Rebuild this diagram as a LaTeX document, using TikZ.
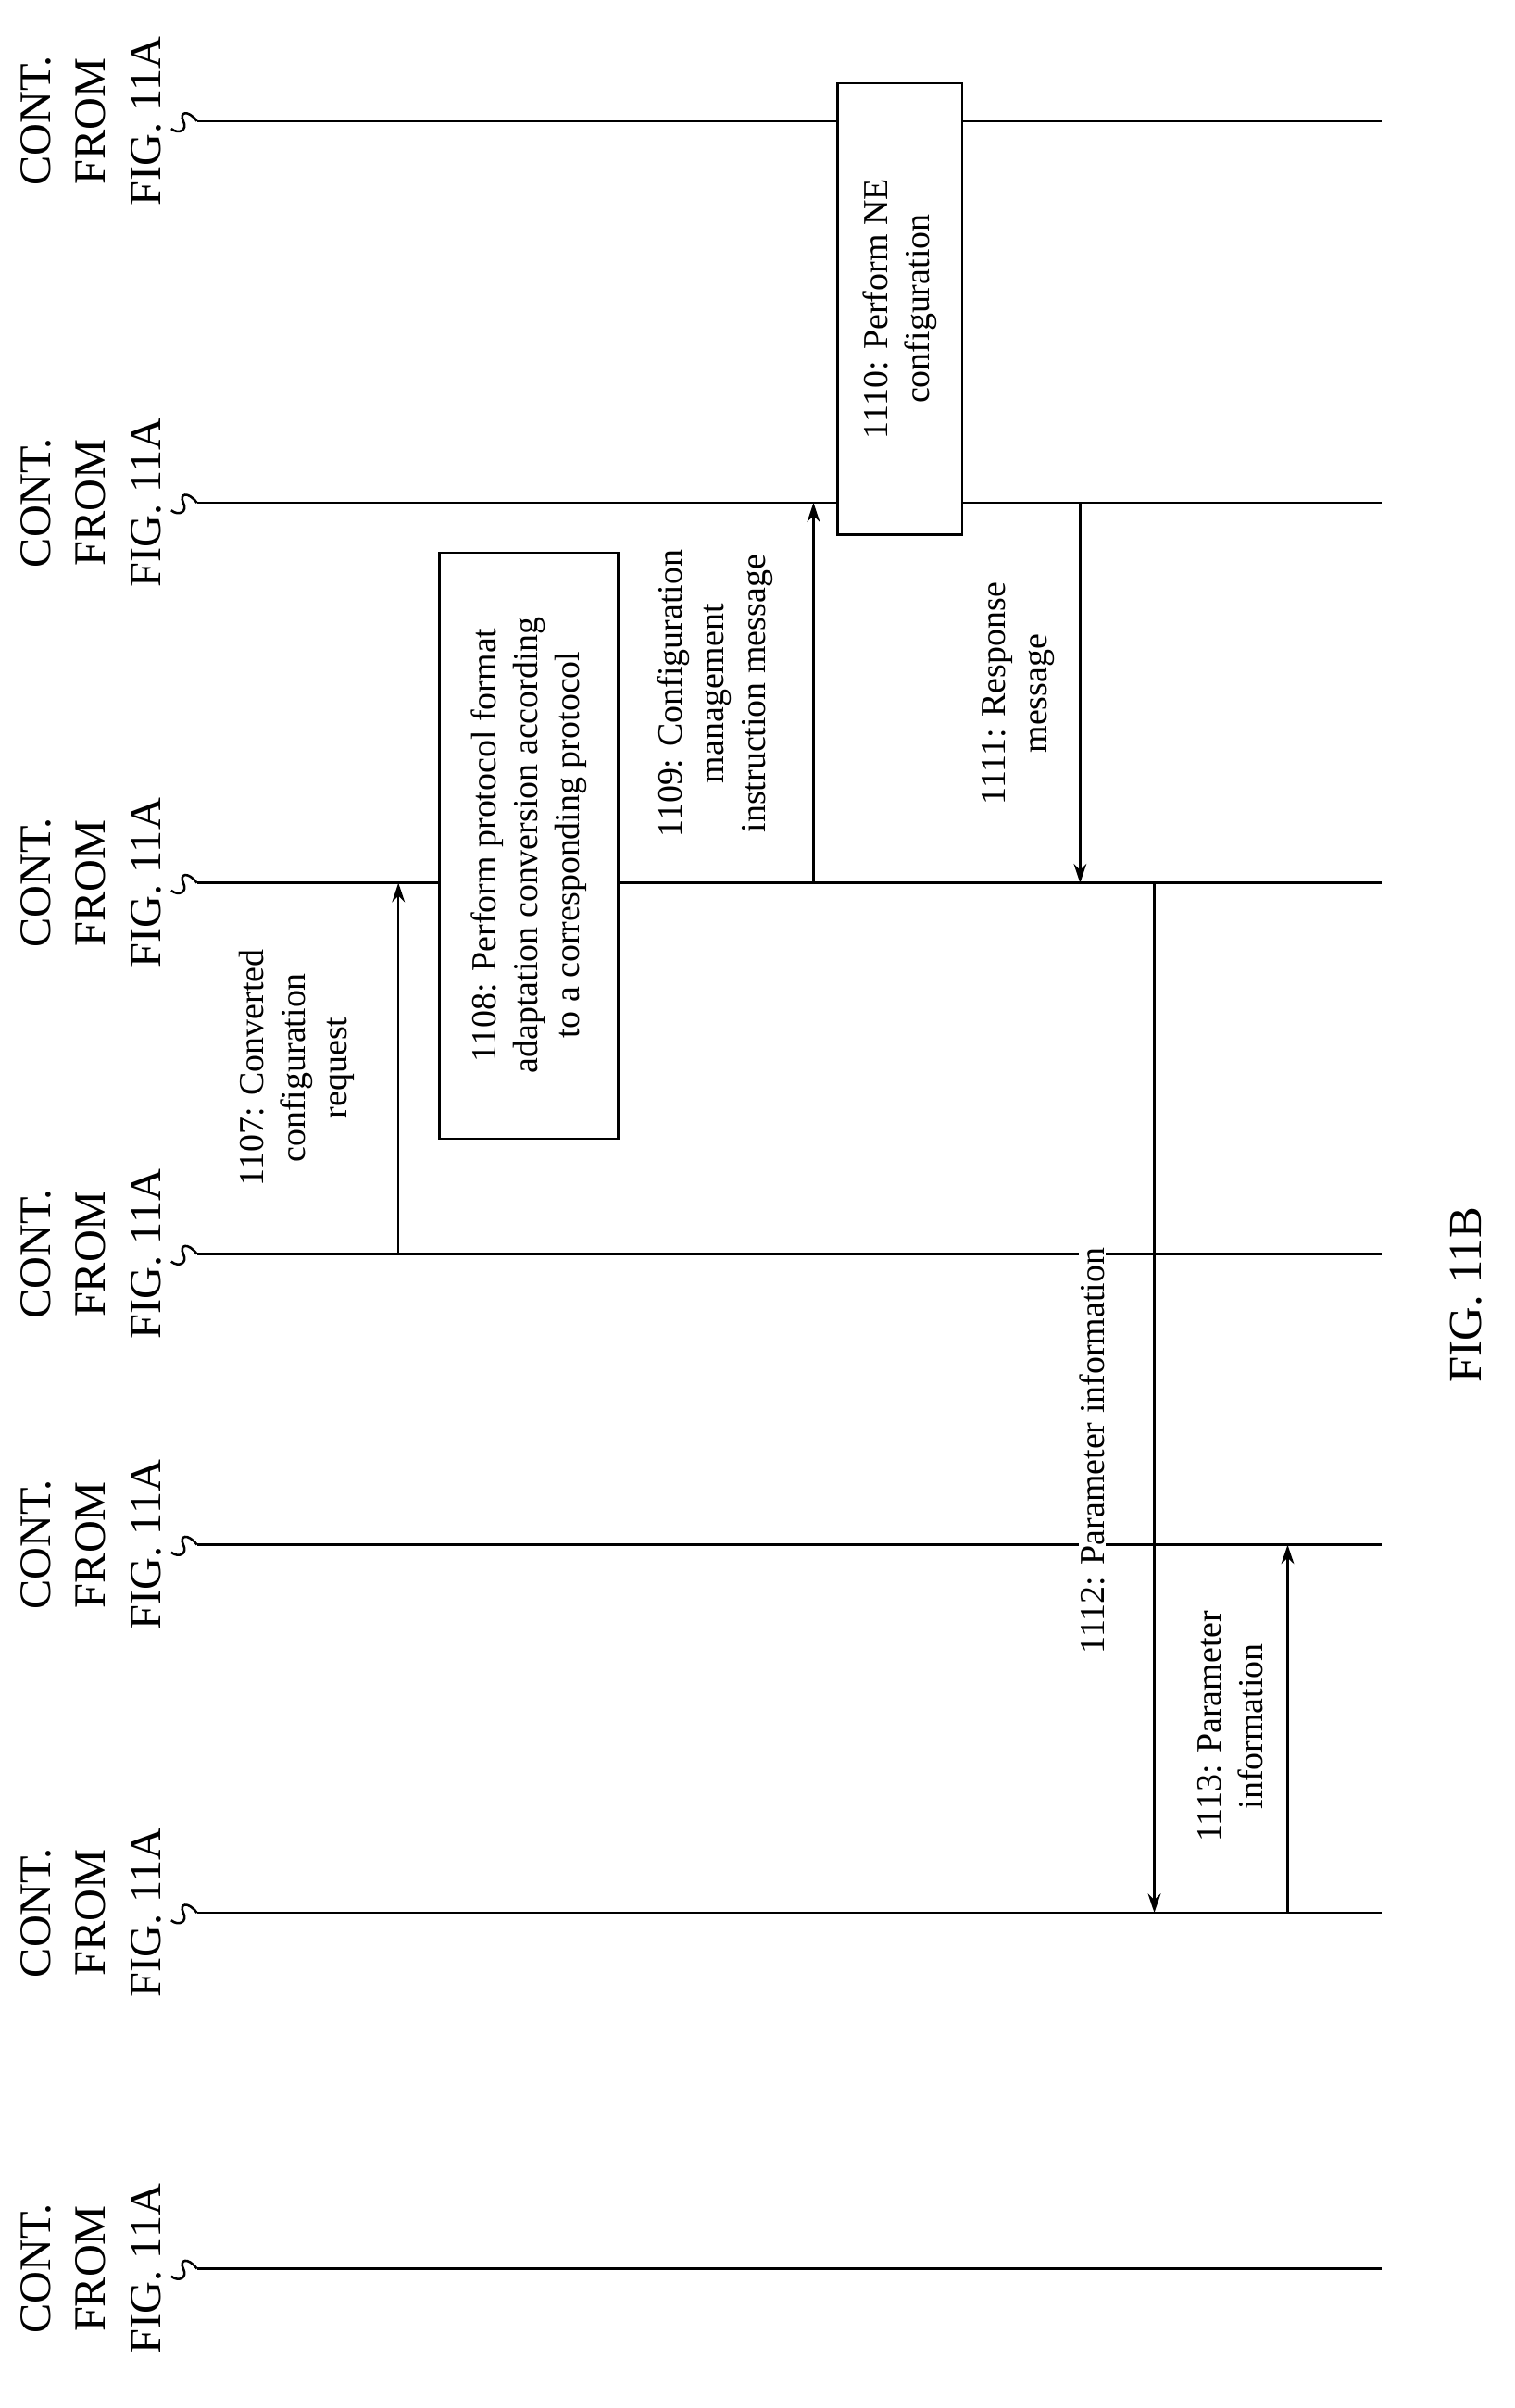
\documentclass[tikz,border=0pt]{standalone}
\usepackage{fontspec}
\setmainfont{Liberation Serif}
\usetikzlibrary{arrows.meta}
\begin{document}
\begin{tikzpicture}[x=0.05cm,y=-0.05cm,
  life/.style={line width=2.2pt},
  msg/.style={line width=2.2pt,-{Stealth[length=18pt,width=12pt]}},
  cont/.style={rotate=90,align=center,font=\fontsize{42}{52}\selectfont},
  lbl/.style={rotate=90,align=center,font=\fontsize{33}{39}\selectfont,inner sep=1pt}]
\useasboundingbox (0,0) rectangle (1000,1590);
\foreach \n/\y in {a/80,b/332,c/583,d/828,e/1020,f/1263,g/1498}{
  \coordinate (\n0) at (130,\y);
  \coordinate (\n1) at (912,\y);
  \draw[life] (\n0) -- (\n1);
  \draw[life] (\n0) .. controls (124,\y-8) and (118,\y-6) .. (121,\y) .. controls (124,\y+6) and (118,\y+9) .. (113,\y+5);
  \node[cont] (cont\n) at (60,\y) {CONT.\\FROM\\FIG. 11A};
}
% 1107
\coordinate (s1) at (263,828); \coordinate (t1) at (263,583);
\draw[msg] (s1) -- (t1);
\node[lbl] (l1107) at (196,705) {1107: Converted\\configuration\\request};
% 1108
\draw[line width=2.2pt,fill=white] (290,365) rectangle (408,752);
\node[lbl] (b1108) at (349,558) {1108: Perform protocol format\\adaptation conversion according\\to a corresponding protocol};
% 1109
\coordinate (s2) at (537,583); \coordinate (t2) at (537,332);
\draw[msg] (s2) -- (t2);
\node[lbl] (l1109) at (472,458) {1109: Configuration\\management\\instruction message};
% 1110
\draw[line width=2.2pt,fill=white] (553,55) rectangle (635,353);
\node[lbl] (b1110) at (594,204) {1110: Perform NE\\configuration};
% 1111
\coordinate (s3) at (713,332); \coordinate (t3) at (713,583);
\draw[msg] (s3) -- (t3);
\node[lbl] (l1111) at (672,458) {1111: Response\\message};
% 1112
\coordinate (s4) at (762,583); \coordinate (t4) at (762,1263);
\draw[msg] (s4) -- (t4);
\node[lbl,fill=white] (l1112) at (721,958) {1112: Parameter information};
% 1113
\coordinate (s5) at (850,1263); \coordinate (t5) at (850,1020);
\draw[msg] (s5) -- (t5);
\node[lbl] (l1113) at (812,1140) {1113: Parameter\\information};
\node[rotate=90,font=\fontsize{44}{52}\selectfont] (fig) at (968,855) {FIG. 11B};
\end{tikzpicture}
\end{document}
